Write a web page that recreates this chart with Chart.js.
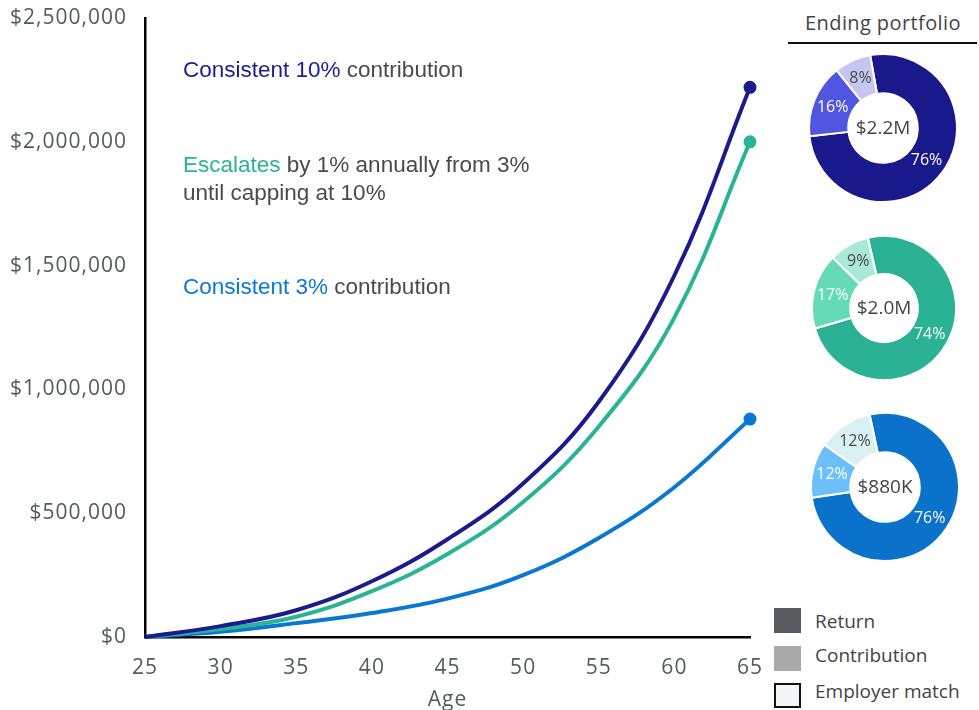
<!DOCTYPE html>
<html>
<head>
<meta charset="utf-8">
<script src="https://cdn.jsdelivr.net/npm/chart.js@4.4.1/dist/chart.umd.min.js"></script>
<style>
  html, body { margin: 0; padding: 0; background: #fff; }
  body { width: 979px; height: 710px; position: relative; overflow: hidden; }
  #growth { position: absolute; left: 0; top: 0; }
  .donut { position: absolute; width: 170px; height: 170px; }
  .note { position: absolute; left: 183px; font-family: "Liberation Sans", Arial, sans-serif; font-size: 22.5px; line-height: 28px; color: #4a4a4a; white-space: nowrap; }
  .title { position: absolute; left: 783px; top: 9px; width: 200px; text-align: center; font-family: "Open Sans", sans-serif; font-size: 20px; line-height: 28px; color: #444; letter-spacing: 0.4px; }
  .rule { position: absolute; left: 788px; top: 42px; width: 189px; height: 2px; background: #111; }
  .key { position: absolute; left: 774px; width: 27px; height: 25px; box-sizing: border-box; }
  .keytext { position: absolute; left: 815px; font-family: "Open Sans", sans-serif; font-size: 19px; line-height: 26px; color: #444; }
</style>
</head>
<body>
<canvas id="growth" width="770" height="710"></canvas>

<div class="note" style="top:56px"><span style="color:#1d1d8f">Consistent 10%</span> contribution</div>
<div class="note" style="top:151px"><span style="color:#2ab394">Escalates</span> by 1% annually from 3%<br>until capping at 10%</div>
<div class="note" style="top:273px"><span style="color:#0a78d2">Consistent 3%</span> contribution</div>

<div class="title">Ending portfolio</div>
<div class="rule"></div>

<canvas class="donut" id="d0" width="170" height="170" style="left:798px;top:43px"></canvas>
<canvas class="donut" id="d1" width="170" height="170" style="left:799px;top:223px"></canvas>
<canvas class="donut" id="d2" width="170" height="170" style="left:800px;top:402px"></canvas>

<div class="key" style="top:608px;background:#585c5f"></div>
<div class="keytext" style="top:608px">Return</div>
<div class="key" style="top:646px;background:#a9a9ab"></div>
<div class="keytext" style="top:642px">Contribution</div>
<div class="key" style="top:683px;background:#f3f5f7;border:2px solid #111"></div>
<div class="keytext" style="top:678px">Employer match</div>

<script>
// Portfolio balance by age for each contribution strategy
const ages = [25, 30, 35, 40, 45, 50, 55, 60, 65];
const consistent10 = [0, 44000, 108000, 225000, 395000, 620000, 950000, 1460000, 2220000];
const escalating   = [0, 32000, 82000, 185000, 335000, 545000, 850000, 1290000, 2000000];
const consistent3  = [0, 21000, 56000, 97000, 155000, 250000, 400000, 605000, 880000];
const yTicks = [0, 500000, 1000000, 1500000, 2000000, 2500000];

// Ending portfolio composition (%) per strategy
const strategies = ['Consistent 10%', 'Escalating', 'Consistent 3%'];
const returnShare = [76, 74, 76];
const contributionShare = [16, 17, 12];
const matchShare = [8, 9, 12];
const endingLabels = ['$2.2M', '$2.0M', '$880K'];
const parts = ['Return', 'Contribution', 'Employer match'];

const tickFont = { family: 'Open Sans', size: 21 };
const tickColor = '#555a5c';

const spacing = {
  id: 'spacing',
  beforeUpdate(chart) { chart.ctx.letterSpacing = '1px'; },
  beforeDraw(chart) { chart.ctx.letterSpacing = '1px'; }
};

const toPoints = vals => vals.map((v, i) => ({ x: ages[i], y: v }));
const endDot = ctx => ctx.dataIndex === ages.length - 1 ? 4.5 : 0;

function lineSet(label, vals, color) {
  return {
    label, data: toPoints(vals), borderColor: color, backgroundColor: color,
    borderWidth: 4, pointRadius: endDot, pointHoverRadius: endDot,
    tension: 0.4, clip: false
  };
}

new Chart(document.getElementById('growth'), {
  type: 'line',
  data: {
    datasets: [
      lineSet('Consistent 10% contribution', consistent10, '#1b1b8e'),
      lineSet('Escalates by 1% annually from 3% until capping at 10%', escalating, '#2ab394'),
      lineSet('Consistent 3% contribution', consistent3, '#0a78d2')
    ]
  },
  options: {
    responsive: false, animation: false,
    layout: { autoPadding: false, padding: { left: 4, right: 20, top: 18, bottom: 0 } },
    plugins: { legend: { display: false }, tooltip: { enabled: false } },
    scales: {
      x: {
        type: 'linear', min: 25, max: 65,
        ticks: { stepSize: 5, font: tickFont, color: tickColor, padding: 18 },
        grid: { display: false, drawTicks: false },
        border: { display: true, color: '#000', width: 2.5 },
        title: { display: true, text: 'Age', font: tickFont, color: tickColor, padding: { top: 0, bottom: -3 } },
        afterFit: axis => {
          axis.height = 73;
          axis.paddingLeft = 14; axis.paddingRight = 14;
        }
      },
      y: {
        min: 0, max: 2500000,
        afterBuildTicks: axis => { axis.ticks = yTicks.map(v => ({ value: v })); },
        ticks: { font: tickFont, color: tickColor, padding: 18,
                 callback: v => '$' + Number(v).toLocaleString('en-US') },
        grid: { display: false, drawTicks: false },
        border: { display: true, color: '#000', width: 2.5 },
        afterFit: axis => {
          axis.width = 141;
          axis.paddingTop = 12; axis.paddingBottom = 12;
        }
      }
    }
  },
  plugins: [spacing]
});

// Percent labels on each slice plus the ending balance in the hole
const sliceLabels = {
  id: 'sliceLabels',
  afterDatasetsDraw(chart) {
    const ctx = chart.ctx;
    const meta = chart.getDatasetMeta(0);
    const vals = chart.data.datasets[0].data;
    ctx.save();
    ctx.textAlign = 'center';
    ctx.textBaseline = 'middle';
    ctx.font = '16px "Open Sans"';
    meta.data.forEach((arc, i) => {
      const p = arc.tooltipPosition();
      ctx.fillStyle = i === 2 ? '#4a4a4a' : '#ffffff';
      ctx.fillText(vals[i] + '%', p.x, p.y);
    });
    const c = meta.data[0];
    ctx.font = '19px "Open Sans"';
    ctx.fillStyle = '#444';
    ctx.fillText(chart.options.plugins.sliceLabels.center, c.x, c.y + 1);
    ctx.restore();
  }
};

const donutColors = [
  ['#19198c', '#5056e0', '#c5c7f2'],
  ['#2bb193', '#65dbb5', '#a9e9d6'],
  ['#0b72cc', '#6cbff9', '#daf1f3']
];
const radii = [74, 72, 74];
const rotations = [-10, -13, -12];

strategies.forEach((name, k) => {
  new Chart(document.getElementById('d' + k), {
    type: 'doughnut',
    data: {
      labels: parts,
      datasets: [{
        label: name,
        data: [returnShare[k], contributionShare[k], matchShare[k]],
        backgroundColor: donutColors[k],
        borderColor: '#ffffff', borderWidth: 2
      }]
    },
    options: {
      responsive: false, animation: false,
      radius: radii[k], cutout: '47%', rotation: rotations[k],
      plugins: { legend: { display: false }, tooltip: { enabled: false },
                 sliceLabels: { center: endingLabels[k] } }
    },
    plugins: [sliceLabels]
  });
});
</script>
</body>
</html>
